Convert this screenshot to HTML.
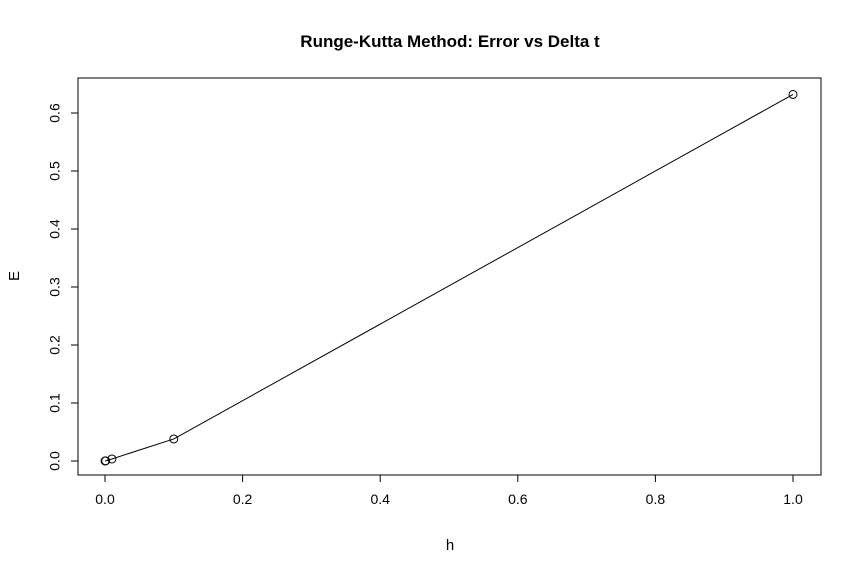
<!DOCTYPE html>
<html><head><meta charset="utf-8"><style>
body{margin:0;background:#fff}
svg text{font-family:"Liberation Sans",sans-serif;fill:#000}
</style></head><body>
<svg id="chart" width="861" height="574">
<rect width="861" height="574" fill="#fff"/>
<text x="450" y="47" font-size="17" font-weight="bold" text-anchor="middle">Runge-Kutta Method: Error vs Delta t</text>
<rect x="78" y="78" width="743" height="397" fill="none" stroke="#000" stroke-width="1"/>
<text x="450" y="550" font-size="15" text-anchor="middle">h</text>
<text x="19" y="276" font-size="15" text-anchor="middle" transform="rotate(-90 19 276)">E</text>
<g id="axes"></g>
<g id="marks"></g>
</svg>
<script>
const hValues=[0.0001,0.001,0.01,0.1,1];
const eValues=[0.0000,0.0003,0.0035,0.038,0.632];
const xTicks=["0.0","0.2","0.4","0.6","0.8","1.0"];
const yTicks=["0.0","0.1","0.2","0.3","0.4","0.5","0.6"];
const NS="http://www.w3.org/2000/svg";
const xs=v=>105+v*688;
const ys=v=>461-v*580;
function mk(p,t,a){const e=document.createElementNS(NS,t);for(const k in a)e.setAttribute(k,a[k]);p.appendChild(e);return e;}
const ax=document.getElementById('axes');
mk(ax,'line',{x1:xs(0),x2:xs(1),y1:475,y2:475,stroke:'#000'});
xTicks.forEach(t=>{const x=xs(parseFloat(t));
 const l=mk(ax,'line',{x1:x,x2:x,y1:475,y2:482,stroke:'#000'});
 
 
 const tx=mk(ax,'text',{x:x,y:504,'font-size':14,'text-anchor':'middle'});tx.textContent=t;
 
 });
mk(ax,'line',{x1:78,x2:78,y1:ys(0),y2:ys(0.6),stroke:'#000'});
yTicks.forEach(t=>{const y=ys(parseFloat(t));
 const l=mk(ax,'line',{x1:71,x2:78,y1:y,y2:y,stroke:'#000'});
 
 
 const tx=mk(ax,'text',{x:56,y:y,'font-size':14,'text-anchor':'middle',transform:`rotate(-90 56 ${y})`,'dominant-baseline':'middle'});tx.textContent=t;
 
 });
const mg=document.getElementById('marks');
const pl=mk(mg,'polyline',{points:hValues.map((h,i)=>xs(h)+','+ys(eValues[i])).join(' '),fill:'none',stroke:'#000'});


hValues.forEach((h,i)=>{const c=mk(mg,'circle',{cx:xs(h),cy:ys(eValues[i]),r:4,fill:'none',stroke:'#000'});
 
 });
</script>
</body></html>
